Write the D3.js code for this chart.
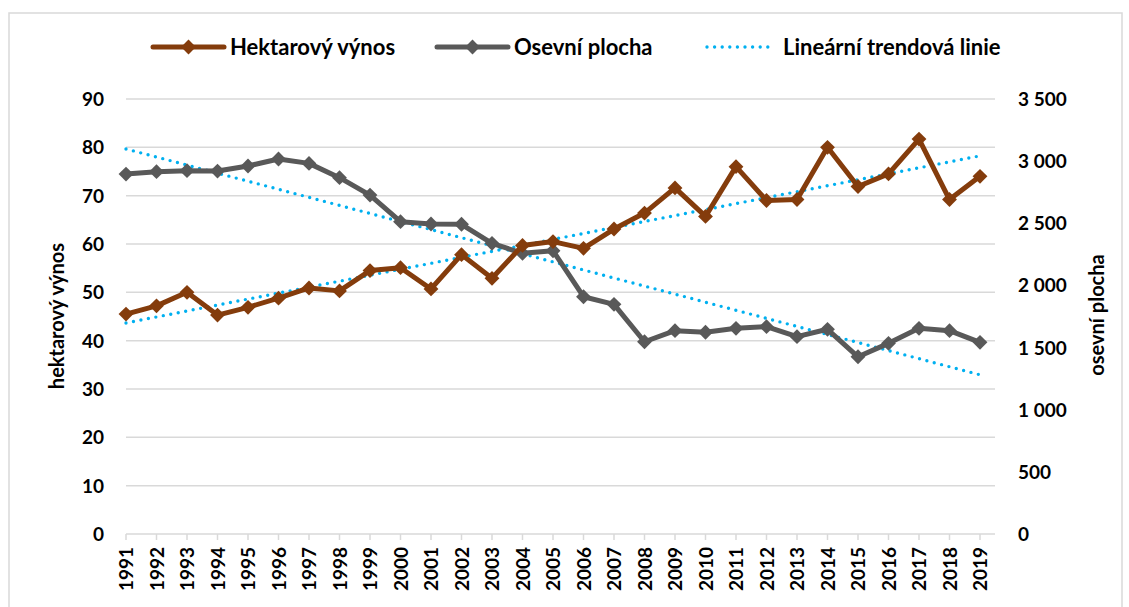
<!DOCTYPE html>
<html>
<head>
<meta charset="utf-8">
<script src="https://cdn.jsdelivr.net/npm/d3@7"></script>
<style>
  body { margin: 0; background: #fff; }
  text { font-family: Lato, "Open Sans", sans-serif; font-weight: bold; fill: #000; }
</style>
</head>
<body>
<div id="chart"></div>
<script>
var years = d3.range(1991, 2020);

// hektarový výnos (left axis)
var yieldValues = [45.5, 47.2, 50.0, 45.3, 46.9, 48.8, 50.9, 50.3, 54.5, 55.1,
  50.7, 57.8, 52.9, 59.7, 60.5, 59.1, 63.1, 66.4, 71.6, 65.7,
  76.0, 69.0, 69.2, 80.0, 71.9, 74.5, 81.7, 69.2, 74.0];

// osevní plocha (right axis)
var areaValues = [2896, 2915, 2923, 2920, 2961, 3017, 2982, 2867, 2727, 2513,
  2494, 2492, 2339, 2258, 2279, 1909, 1848, 1547, 1636, 1623,
  1655, 1668, 1588, 1647, 1426, 1534, 1655, 1636, 1542];

var leftTicks = [0, 10, 20, 30, 40, 50, 60, 70, 80, 90];
var rightTicks = [0, 500, 1000, 1500, 2000, 2500, 3000, 3500];

var legendLabels = ["Hektarový výnos", "Osevní plocha", "Lineární trendová linie"];

var width = 1129, height = 607;
var brown = "#843C0C", grey = "#595959", blue = "#00B0F0", gridCol = "#D9D9D9";

var svg = d3.select("#chart").append("svg")
  .attr("width", width).attr("height", height);

// chart border
svg.append("rect")
  .attr("x", 9).attr("y", 13).attr("width", 1113).attr("height", 620)
  .style("fill", "none").style("stroke", gridCol).style("stroke-width", 1.5);

var x = d3.scalePoint().domain(years).range([126, 980]);
var yL = d3.scaleLinear().domain([0, 90]).range([534, 99]);
var yR = d3.scaleLinear().domain([0, 3500]).range([534, 99]);
var gridRight = 995;

// gridlines
svg.append("g").selectAll("line").data(leftTicks.slice(1)).enter().append("line")
  .attr("x1", 126).attr("x2", gridRight)
  .attr("y1", d => yL(d)).attr("y2", d => yL(d))
  .style("stroke", gridCol).style("stroke-width", 1.5);

// x axis line + ticks
svg.append("line")
  .attr("x1", 126).attr("x2", gridRight).attr("y1", yL(0)).attr("y2", yL(0))
  .style("stroke", gridCol).style("stroke-width", 1.5);
svg.append("g").selectAll("line").data(years).enter().append("line")
  .attr("x1", d => x(d)).attr("x2", d => x(d))
  .attr("y1", yL(0)).attr("y2", yL(0) + 6)
  .style("stroke", gridCol).style("stroke-width", 1.5);

// x labels
svg.append("g").selectAll("text").data(years).enter().append("text")
  .attr("transform", d => "translate(" + (x(d) + 7) + "," + (yL(0) + 13) + ") rotate(-90)")
  .attr("text-anchor", "end")
  .style("font-size", "19px")
  .text(d => d);

// left tick labels
svg.append("g").selectAll("text").data(leftTicks).enter().append("text")
  .attr("x", 104).attr("y", d => yL(d) + 7)
  .attr("text-anchor", "end")
  .style("font-size", "19px")
  .text(d => d);

// right tick labels
var fmt = d => d3.format(",")(d).replace(",", " ");
svg.append("g").selectAll("text").data(rightTicks).enter().append("text")
  .attr("x", 1018).attr("y", d => yR(d) + 7)
  .attr("text-anchor", "start")
  .style("font-size", "19px")
  .text(fmt);

// axis titles
svg.append("text")
  .attr("transform", "translate(64,316) rotate(-90)")
  .attr("text-anchor", "middle")
  .style("font-size", "20px")
  .text("hektarový výnos");
svg.append("text")
  .attr("transform", "translate(1104,315) rotate(-90)")
  .attr("text-anchor", "middle")
  .style("font-size", "20px")
  .text("osevní plocha");

// linear trend lines (least squares, like Excel)
function trend(vals) {
  var n = vals.length;
  var xs = d3.range(n);
  var mx = d3.mean(xs), my = d3.mean(vals);
  var sxy = d3.sum(xs, (i) => (i - mx) * (vals[i] - my));
  var sxx = d3.sum(xs, (i) => (i - mx) * (i - mx));
  var b = sxy / sxx, a = my - b * mx;
  return [a, a + b * (n - 1)];
}
var tY = trend(yieldValues), tA = trend(areaValues);

function dotted(sel) {
  sel.style("stroke", blue).style("stroke-width", 3.4)
    .style("stroke-dasharray", "0 7.6").style("stroke-linecap", "round");
}
svg.append("line")
  .attr("x1", x(1991)).attr("y1", yL(tY[0]))
  .attr("x2", x(2019)).attr("y2", yL(tY[1]))
  .call(dotted);
svg.append("line")
  .attr("x1", x(1991)).attr("y1", yR(tA[0]))
  .attr("x2", x(2019)).attr("y2", yR(tA[1]))
  .call(dotted);

var diamond = d3.symbol().type(d3.symbolDiamond2).size(140);

function series(vals, yScale, col) {
  var line = d3.line().x((d, i) => x(years[i])).y(d => yScale(d));
  svg.append("path").datum(vals)
    .attr("d", line)
    .style("fill", "none").style("stroke", col)
    .style("stroke-width", 5).style("stroke-linejoin", "round");
  svg.append("g").selectAll("path").data(vals).enter().append("path")
    .attr("d", diamond)
    .attr("transform", (d, i) => "translate(" + x(years[i]) + "," + yScale(d) + ")")
    .style("fill", col);
}
series(areaValues, yR, grey);
series(yieldValues, yL, brown);

// legend
var lg = svg.append("g");
var legendItems = [
  { x: 153, col: brown, type: "line" },
  { x: 437, col: grey, type: "line" },
  { x: 707, col: blue, type: "dot" }
];
legendItems.forEach(function(it, i) {
  var ly = 47;
  if (it.type === "line") {
    lg.append("line").attr("x1", it.x).attr("x2", it.x + 71)
      .attr("y1", ly).attr("y2", ly)
      .style("stroke", it.col).style("stroke-width", 5).style("stroke-linecap", "round");
    lg.append("path").attr("d", diamond)
      .attr("transform", "translate(" + (it.x + 35.5) + "," + ly + ")")
      .style("fill", it.col);
  } else {
    lg.append("line").attr("x1", it.x).attr("x2", it.x + 68)
      .attr("y1", ly).attr("y2", ly).call(dotted);
  }
  lg.append("text")
    .attr("x", it.type === "line" ? it.x + 77 : it.x + 76).attr("y", ly + 8)
    .style("font-size", "22px")
    .text(legendLabels[i]);
});
</script>
</body>
</html>
